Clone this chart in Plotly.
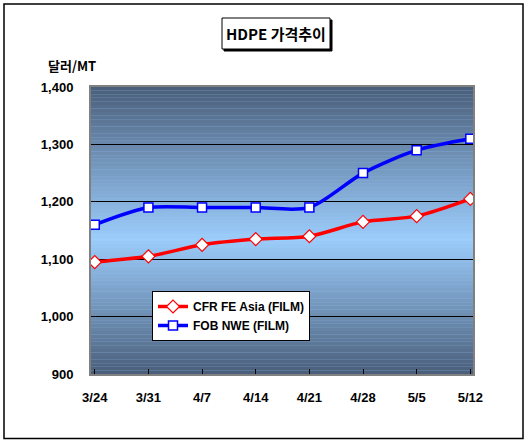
import plotly.graph_objects as go

dates = ["3/24", "3/31", "4/7", "4/14", "4/21", "4/28", "5/5", "5/12"]
cfr_fe_asia = [1095, 1105, 1125, 1135, 1140, 1165, 1175, 1205]
fob_nwe = [1160, 1190, 1190, 1190, 1190, 1250, 1290, 1310]
y_ticks = [900, 1000, 1100, 1200, 1300, 1400]

FONT = "Liberation Sans, Arial, Noto Sans CJK KR, sans-serif"
KFONT = "Noto Sans CJK KR, Liberation Sans, sans-serif"

fig = go.Figure()
fig.add_trace(go.Scatter(
    x=dates, y=cfr_fe_asia, name="CFR FE Asia (FILM)", mode="lines+markers",
    line=dict(color="#ff0000", width=3.5, shape="spline", smoothing=0.8),
    marker=dict(symbol="diamond", size=10, color="white", line=dict(color="#ff0000", width=1.2)),
))
fig.add_trace(go.Scatter(
    x=dates, y=fob_nwe, name="FOB NWE (FILM)", mode="lines+markers",
    line=dict(color="#0000ff", width=3.5, shape="spline", smoothing=0.8),
    marker=dict(symbol="square", size=9, color="white", line=dict(color="#0000ff", width=1.5)),
))

# gradient background stripes
dark = (74, 94, 121)
light = (156, 205, 252)
n = 80
peak = 0.47
shapes = []
for i in range(n):
    t0 = i / n
    t1 = (i + 1) / n
    tm = (t0 + t1) / 2
    if tm < peak:
        f = tm / peak
    else:
        f = (1 - tm) / (1 - peak)
    c = tuple(int(round(dark[k] + (light[k] - dark[k]) * f)) for k in range(3))
    shapes.append(dict(type="rect", xref="x domain", yref="y domain", x0=0, x1=1, y0=t0, y1=t1,
                       fillcolor="rgb(%d,%d,%d)" % c, line=dict(width=0), layer="below"))

W, H = 529, 443
L, R, T, B = 91, 56, 87, 69
pw, ph = W - L - R, H - T - B
def px(x):
    return (x - L) / pw
def py(y):
    return (H - B - y) / ph

# outer border
shapes.append(dict(type="rect", xref="paper", yref="paper", x0=px(4), x1=px(523), y0=py(438.5), y1=py(4),
                   line=dict(color="black", width=1.5), fillcolor="rgba(0,0,0,0)", layer="above"))
# title box shadow + box
shapes.append(dict(type="rect", xref="paper", yref="paper", x0=px(224), x1=px(332), y0=py(51), y1=py(20),
                   line=dict(color="black", width=1), fillcolor="black", layer="above"))
shapes.append(dict(type="rect", xref="paper", yref="paper", x0=px(222), x1=px(330), y0=py(49), y1=py(18),
                   line=dict(color="black", width=1), fillcolor="white", layer="above"))

fig.update_layout(
    width=W, height=H,
    margin=dict(l=L, r=R, t=T, b=B),
    paper_bgcolor="white", plot_bgcolor="#8fbff0",
    shapes=shapes,
    showlegend=True,
    legend=dict(x=px(152), y=py(291), xanchor="left", yanchor="top",
                bgcolor="white", bordercolor="black", borderwidth=1,
                font=dict(family=FONT, size=12, color="black", weight="bold"),
                itemwidth=30, tracegroupgap=2),
    font=dict(family=FONT, color="black"),
    xaxis=dict(type="category", range=[-0.07, 7.05], showgrid=False,
               showline=True, linecolor="#808080", linewidth=2, mirror=True,
               ticks="inside", ticklen=5, tickcolor="black",
               tickfont=dict(family=FONT, size=13, color="black", weight="bold"),
               ticklabelstandoff=10),
    yaxis=dict(range=[900, 1400], tickvals=y_ticks, tickformat=",d",
               showgrid=True, gridcolor="black", gridwidth=1,
               showline=True, linecolor="#808080", linewidth=2, mirror=True,
               ticks="", zeroline=False,
               tickfont=dict(family=FONT, size=13, color="black", weight="bold"),
               ticklabelstandoff=13),
    annotations=[
        dict(text="HDPE 가격추이", xref="paper", yref="paper", x=px(276), y=py(33.5),
             xanchor="center", yanchor="middle", showarrow=False,
             font=dict(family=KFONT, size=15, color="black", weight="bold")),
        dict(text="달러/MT", xref="paper", yref="paper", x=px(46), y=py(66),
             xanchor="left", yanchor="middle", showarrow=False,
             font=dict(family=KFONT, size=13, color="black", weight="bold")),
    ],
)

fig.write_html("out.html", config={"displayModeBar": False},
               post_script="document.body.style.margin='0';document.body.style.overflow='hidden';")
